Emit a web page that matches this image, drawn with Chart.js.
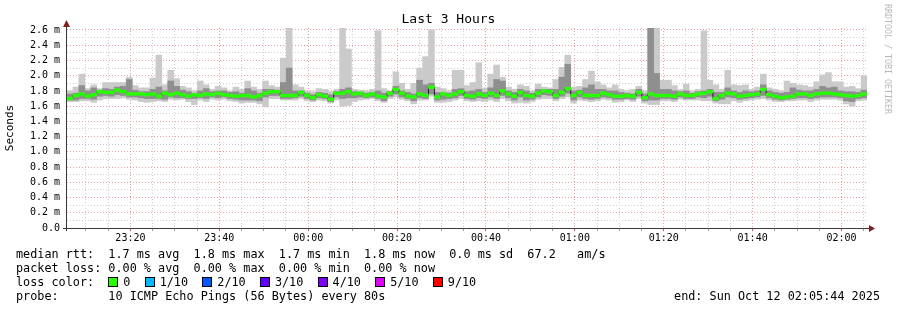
<!DOCTYPE html>
<html lang="en">
<head>
  <meta charset="UTF-8" />
  <title>Last 3 Hours</title>
  <script src="https://cdn.jsdelivr.net/npm/chart.js"></script>
  <style>
    * { box-sizing: border-box; }
    body { margin: 0; background: #fff; font-family: "DejaVu Sans Mono", monospace; color: #000; }
    #wrap { position: relative; width: 897px; height: 310px; overflow: hidden; }
    #chart { position: absolute; left: 0; top: 0; }
    #title { position: absolute; left: 0; top: 11px; width: 897px; text-align: center; font-size: 13px; line-height: 16px; }
    #mark { position: absolute; left: 883px; top: 4px; writing-mode: vertical-rl; font-size: 8.3px; line-height: 9px; color: #b8b8b8; white-space: pre; }
    .leg { position: absolute; left: 16px; white-space: pre; font-size: 11.8px; line-height: 14px; }
    .box { display: inline-block; width: 10px; height: 10px; border: 1px solid #000; margin-right: 5px; vertical-align: -1px; }
  </style>
</head>
<body>
  <div id="wrap">
    <canvas id="chart" width="897" height="310"></canvas>
    <div id="title">Last 3 Hours</div>
    <div id="mark">RRDTOOL / TOBI OETIKER</div>
    <div class="leg" style="top:247px">median rtt:  1.7 ms avg  1.8 ms max  1.7 ms min  1.8 ms now  0.0 ms sd  67.2   am/s</div>
    <div class="leg" style="top:261px">packet loss: 0.00 % avg  0.00 % max  0.00 % min  0.00 % now</div>
    <div class="leg" id="lossLeg" style="top:275px"></div>
    <div class="leg" style="top:289px">probe:       10 ICMP Echo Pings (56 Bytes) every 80s</div>
    <div class="leg" style="top:289px; left:auto; right:17px">end: Sun Oct 12 02:05:44 2025</div>
  </div>

  <script>
    // ——— 1. 資料：135 個取樣，每 80 秒一筆，單位 ms ———
    const startSec = -(54 * 60 + 16);   // 23:05:44, seconds relative to 00:00
    const stepSec = 80;

    const pingMax = [
      1.80,1.85,2.02,1.83,1.88,1.83,1.91,1.91,1.91,1.91,1.98,1.87,1.84,1.84,1.97,2.27,1.88,2.07,1.96,1.86,1.84,1.80,1.93,1.88,1.82,1.86,1.84,1.80,1.85,1.82,1.93,1.85,1.82,
      1.93,1.87,1.85,2.23,2.65,1.88,1.85,1.80,1.79,1.83,1.82,1.79,1.82,2.65,2.35,1.82,1.81,1.80,1.82,2.59,1.83,1.80,2.05,1.90,1.82,1.90,2.10,2.25,2.60,1.85,1.83,1.80,2.07,2.07,
      1.87,1.91,2.17,1.84,2.02,2.14,1.98,1.85,1.82,1.88,1.86,1.80,1.89,1.85,1.84,1.95,2.11,2.27,1.85,1.86,1.95,2.06,1.92,1.88,1.84,1.88,1.82,1.80,1.82,1.86,1.80,2.65,2.65,1.94,
      1.94,1.87,1.82,1.89,1.80,1.82,2.59,1.94,1.88,1.82,2.07,1.88,1.87,1.88,1.82,1.85,2.02,1.84,1.82,1.80,1.93,1.90,1.88,1.87,1.85,1.92,2.01,2.04,1.92,1.92,1.85,1.86,1.83,2.00
    ];
    const pingHi = [
      1.76,1.77,1.87,1.80,1.84,1.81,1.83,1.82,1.85,1.86,1.95,1.81,1.79,1.79,1.82,1.85,1.80,1.93,1.86,1.81,1.79,1.77,1.80,1.83,1.79,1.80,1.80,1.78,1.79,1.77,1.83,1.80,1.77,
      1.82,1.82,1.81,1.91,2.10,1.80,1.80,1.77,1.75,1.78,1.77,1.75,1.79,1.82,1.84,1.79,1.78,1.77,1.78,1.80,1.77,1.79,1.86,1.80,1.78,1.76,1.94,1.88,1.90,1.78,1.77,1.77,1.82,1.83,
      1.79,1.80,1.82,1.78,1.84,1.95,1.93,1.80,1.78,1.82,1.80,1.77,1.82,1.82,1.82,1.82,1.98,2.15,1.80,1.81,1.84,1.88,1.82,1.82,1.80,1.80,1.78,1.77,1.76,1.82,1.76,2.65,2.03,1.82,
      1.82,1.80,1.79,1.80,1.77,1.79,1.80,1.82,1.78,1.78,1.84,1.80,1.78,1.80,1.79,1.80,1.88,1.80,1.78,1.77,1.78,1.84,1.81,1.80,1.80,1.82,1.86,1.84,1.85,1.80,1.79,1.79,1.78,1.81
    ];
    const median = [
      1.70,1.74,1.76,1.73,1.75,1.79,1.78,1.78,1.81,1.79,1.76,1.76,1.76,1.75,1.76,1.73,1.77,1.75,1.77,1.75,1.73,1.75,1.74,1.76,1.75,1.77,1.75,1.74,1.73,1.74,1.74,1.72,1.74,
      1.77,1.79,1.79,1.74,1.74,1.74,1.78,1.74,1.71,1.75,1.73,1.69,1.77,1.77,1.79,1.76,1.77,1.74,1.76,1.73,1.72,1.77,1.82,1.77,1.73,1.72,1.76,1.74,1.85,1.72,1.76,1.74,1.76,1.79,
      1.74,1.73,1.76,1.74,1.77,1.74,1.80,1.76,1.73,1.78,1.74,1.73,1.77,1.80,1.79,1.74,1.78,1.83,1.74,1.78,1.74,1.74,1.74,1.77,1.75,1.73,1.73,1.74,1.73,1.78,1.71,1.76,1.74,1.74,
      1.74,1.73,1.76,1.74,1.74,1.76,1.77,1.79,1.70,1.74,1.77,1.76,1.73,1.74,1.75,1.76,1.82,1.75,1.73,1.71,1.72,1.73,1.76,1.76,1.74,1.76,1.77,1.77,1.76,1.75,1.74,1.73,1.74,1.76
    ];
    const pingLo = [
      1.68,1.68,1.70,1.70,1.69,1.73,1.74,1.73,1.75,1.74,1.72,1.72,1.71,1.70,1.70,1.70,1.69,1.72,1.71,1.71,1.70,1.70,1.71,1.70,1.72,1.71,1.72,1.70,1.69,1.68,1.68,1.68,1.67,
      1.72,1.74,1.74,1.70,1.70,1.71,1.73,1.70,1.68,1.71,1.70,1.66,1.72,1.70,1.71,1.71,1.72,1.71,1.72,1.70,1.67,1.73,1.76,1.72,1.70,1.67,1.71,1.70,1.76,1.68,1.69,1.70,1.71,1.74,
      1.70,1.69,1.71,1.70,1.72,1.70,1.74,1.71,1.68,1.72,1.68,1.69,1.72,1.75,1.74,1.70,1.73,1.77,1.68,1.72,1.70,1.69,1.70,1.72,1.71,1.69,1.69,1.70,1.69,1.73,1.67,1.68,1.68,1.70,
      1.70,1.69,1.72,1.70,1.70,1.72,1.71,1.73,1.67,1.69,1.72,1.71,1.69,1.70,1.71,1.72,1.74,1.71,1.69,1.68,1.69,1.70,1.71,1.71,1.70,1.71,1.72,1.72,1.72,1.71,1.67,1.66,1.70,1.71
    ];
    const pingMin = [
      1.66,1.66,1.67,1.67,1.65,1.68,1.70,1.70,1.70,1.71,1.69,1.68,1.66,1.65,1.66,1.67,1.66,1.69,1.68,1.69,1.66,1.62,1.68,1.66,1.69,1.68,1.69,1.67,1.66,1.64,1.65,1.65,1.63,
      1.59,1.70,1.70,1.68,1.68,1.68,1.70,1.67,1.66,1.68,1.67,1.64,1.68,1.60,1.61,1.66,1.68,1.69,1.70,1.67,1.65,1.70,1.72,1.69,1.67,1.63,1.68,1.68,1.73,1.65,1.65,1.66,1.68,1.70,
      1.67,1.66,1.67,1.66,1.68,1.66,1.70,1.67,1.64,1.65,1.64,1.66,1.69,1.70,1.70,1.67,1.70,1.72,1.64,1.68,1.67,1.66,1.67,1.69,1.68,1.65,1.66,1.68,1.66,1.70,1.64,1.62,1.62,1.67,
      1.67,1.66,1.69,1.68,1.68,1.68,1.67,1.67,1.64,1.63,1.63,1.67,1.65,1.67,1.68,1.69,1.70,1.68,1.66,1.66,1.67,1.67,1.68,1.68,1.66,1.68,1.69,1.69,1.69,1.68,1.63,1.60,1.67,1.68
    ];

    const lossLabels = ['0', '1/10', '2/10', '3/10', '4/10', '5/10', '9/10'];
    const lossColors = ['#26ff00', '#00b8ff', '#0059ff', '#5e00ff', '#7e00ff', '#dd00ff', '#ff0000'];

    // ——— 2. 圖例 ———
    const lossLeg = document.getElementById('lossLeg');
    let html = 'loss color:  ';
    lossLabels.forEach((l, i) => {
      html += `<span class="box" style="background:${lossColors[i]}"></span>${l}  `;
    });
    lossLeg.innerHTML = html;

    // ——— 3. 繪圖 ———
    const majorGrid = '#eba0a0';
    const minorGrid = '#cfcfcf';
    const smokeHalf = 0.018;   // half thickness of the median bar (ms)

    const xs = median.map((_, i) => (startSec + (i + 0.5) * stepSec) / 60);
    const band = (lo, hi) => xs.map((x, i) => ({ x, y: [lo[i], hi[i]] }));
    const fmtTime = v => {
      const m = ((v % 1440) + 1440) % 1440;
      return String(Math.floor(m / 60)).padStart(2, '0') + ':' + String(m % 60).padStart(2, '0');
    };
    const barOpts = { type: 'bar', grouped: false, barPercentage: 1, categoryPercentage: 1, borderWidth: 0 };

    const axisArrows = {
      id: 'axisArrows',
      afterDraw(chart) {
        const { ctx, chartArea: a } = chart;
        const y0 = Math.round(a.bottom) + 0.5;
        const x0 = Math.round(a.left) - 0.5;
        ctx.save();
        ctx.strokeStyle = '#3a3a3a';
        ctx.lineWidth = 1;
        ctx.beginPath();
        ctx.moveTo(a.left - 4, y0); ctx.lineTo(a.right + 3, y0);
        ctx.moveTo(x0, a.bottom + 3); ctx.lineTo(x0, a.top - 5);
        ctx.stroke();
        ctx.fillStyle = '#7f1f1f';
        ctx.beginPath();
        ctx.moveTo(a.right + 2, y0 - 3.5); ctx.lineTo(a.right + 8, y0); ctx.lineTo(a.right + 2, y0 + 3.5);
        ctx.closePath(); ctx.fill();
        ctx.beginPath();
        ctx.moveTo(x0 - 3.5, a.top - 1); ctx.lineTo(x0, a.top - 8); ctx.lineTo(x0 + 3.5, a.top - 1);
        ctx.closePath(); ctx.fill();
        ctx.restore();
      }
    };

    Chart.defaults.font.family = "'DejaVu Sans Mono', monospace";
    Chart.defaults.color = '#000';

    new Chart(document.getElementById('chart'), {
      type: 'bar',
      data: {
        datasets: [
          { ...barOpts, data: band(pingMin, pingMax), backgroundColor: '#cacaca', order: 5 },
          { ...barOpts, data: band(pingLo, pingHi), backgroundColor: '#8f8f8f', order: 4 },
          {
            type: 'line', data: xs.map((x, i) => ({ x, y: median[i] })),
            borderColor: '#1a1a1a', borderWidth: 1, stepped: 'middle', pointRadius: 0, order: 3
          },
          {
            ...barOpts, order: 2, backgroundColor: lossColors[0],
            data: xs.map((x, i) => ({ x, y: [median[i] - smokeHalf, median[i] + smokeHalf] }))
          }
        ]
      },
      options: {
        responsive: false,
        animation: false,
        events: [],
        layout: { padding: { top: 28, right: 30, bottom: 60, left: 0 } },
        plugins: { legend: { display: false }, tooltip: { enabled: false } },
        scales: {
          x: {
            type: 'linear',
            min: startSec / 60,
            max: (startSec + median.length * stepSec) / 60,
            offset: false,
            afterBuildTicks: s => {
              const t = [];
              for (let v = Math.ceil(s.min / 5) * 5; v <= s.max; v += 5) t.push({ value: v });
              s.ticks = t;
            },
            afterFit: s => { s.height = 22; },
            grid: {
              offset: false,
              color: c => (c.tick && c.tick.value % 20 === 0) ? majorGrid : minorGrid,
              tickColor: c => (c.tick && c.tick.value % 20 === 0) ? '#d05050' : '#a0a0a0',
              tickLength: 3
            },
            border: { display: false, dash: [1, 2] },
            ticks: {
              autoSkip: false, maxRotation: 0, padding: 1, font: { size: 10 },
              callback: v => v % 20 === 0 ? fmtTime(v) : ''
            }
          },
          y: {
            min: 0,
            max: 2.626,
            afterBuildTicks: s => {
              const t = [];
              for (let i = 0; i <= 26; i++) t.push({ value: i / 10 });
              s.ticks = t;
            },
            afterFit: s => { s.width = 67; },
            grid: {
              drawTicks: false,
              color: c => {
                const i = Math.round(c.tick.value * 10);
                if (i === 0) return 'rgba(0,0,0,0)';
                return i % 2 === 0 ? majorGrid : minorGrid;
              }
            },
            border: { display: false, dash: [1, 2] },
            ticks: {
              autoSkip: false, padding: 7, font: { size: 10 },
              callback: v => {
                const i = Math.round(v * 10);
                if (i % 2 !== 0) return '';
                return i === 0 ? '0.0' : (i / 10).toFixed(1) + ' m';
              }
            },
            title: { display: true, text: 'Seconds', font: { size: 11 }, padding: { top: 4, bottom: 0 } }
          }
        }
      },
      plugins: [axisArrows]
    });
  </script>
</body>
</html>
